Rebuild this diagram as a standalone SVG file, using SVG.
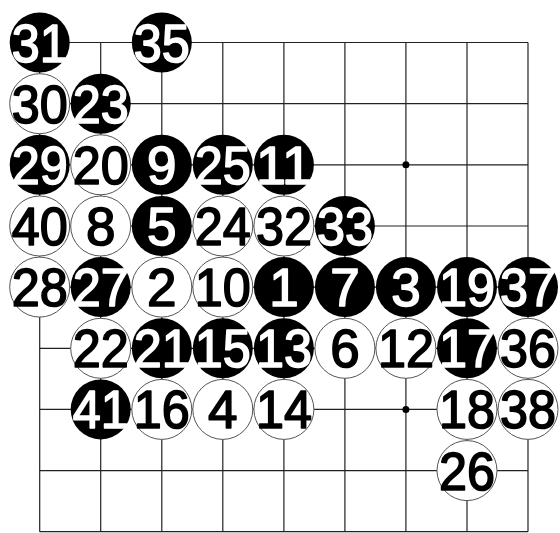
<svg xmlns="http://www.w3.org/2000/svg" width="560" height="533" viewBox="0 0 560 533">
<style>
.grid line{stroke:#222;stroke-width:1.2}
.star{fill:#000}
.b circle{fill:#000}
.w circle{fill:#fff;stroke:#555;stroke-width:1}
text{font-family:"Liberation Sans",Arial,sans-serif;font-size:53px;text-anchor:middle;stroke-width:1.6;stroke-linejoin:round}
.b text{fill:#fff;stroke:#fff}
.w text{fill:#000;stroke:#000}
</style>
<rect width="560" height="533" fill="#fff"/>
<g id="connectors" class="grid">
<line x1="39.7" y1="42.5" x2="528" y2="42.5"/>
<line x1="39.7" y1="103.7" x2="528" y2="103.7"/>
<line x1="39.7" y1="164.8" x2="528" y2="164.8"/>
<line x1="39.7" y1="226" x2="528" y2="226"/>
<line x1="39.7" y1="287.1" x2="528" y2="287.1"/>
<line x1="39.7" y1="348.3" x2="528" y2="348.3"/>
<line x1="39.7" y1="409.4" x2="528" y2="409.4"/>
<line x1="39.7" y1="470.6" x2="528" y2="470.6"/>
<line x1="39.7" y1="531.7" x2="528" y2="531.7"/>
<line x1="39.7" y1="42.5" x2="39.7" y2="531.7"/>
<line x1="100.7" y1="42.5" x2="100.7" y2="531.7"/>
<line x1="161.8" y1="42.5" x2="161.8" y2="531.7"/>
<line x1="222.8" y1="42.5" x2="222.8" y2="531.7"/>
<line x1="283.9" y1="42.5" x2="283.9" y2="531.7"/>
<line x1="344.9" y1="42.5" x2="344.9" y2="531.7"/>
<line x1="405.9" y1="42.5" x2="405.9" y2="531.7"/>
<line x1="467" y1="42.5" x2="467" y2="531.7"/>
<line x1="528" y1="42.5" x2="528" y2="531.7"/>
<circle class="star" cx="405.9" cy="164.8" r="3.5"/>
<circle class="star" cx="405.9" cy="409.4" r="3.5"/>
</g>
<g id="s31" class="b"><circle cx="39.7" cy="42.5" r="30"/><text x="39.7" y="61.5" textLength="56" lengthAdjust="spacingAndGlyphs">31</text></g>
<g id="s35" class="b"><circle cx="161.8" cy="42.5" r="30"/><text x="161.8" y="61.5" textLength="56" lengthAdjust="spacingAndGlyphs">35</text></g>
<g id="s30" class="w"><circle cx="39.7" cy="103.7" r="30"/><text x="39.7" y="122.7" textLength="56" lengthAdjust="spacingAndGlyphs">30</text></g>
<g id="s23" class="b"><circle cx="100.7" cy="103.7" r="30"/><text x="100.7" y="122.7" textLength="56" lengthAdjust="spacingAndGlyphs">23</text></g>
<g id="s29" class="b"><circle cx="39.7" cy="164.8" r="30"/><text x="39.7" y="183.8" textLength="56" lengthAdjust="spacingAndGlyphs">29</text></g>
<g id="s20" class="w"><circle cx="100.7" cy="164.8" r="30"/><text x="100.7" y="183.8" textLength="56" lengthAdjust="spacingAndGlyphs">20</text></g>
<g id="s9" class="b"><circle cx="161.8" cy="164.8" r="30"/><text x="161.8" y="183.8">9</text></g>
<g id="s25" class="b"><circle cx="222.8" cy="164.8" r="30"/><text x="222.8" y="183.8" textLength="56" lengthAdjust="spacingAndGlyphs">25</text></g>
<g id="s11" class="b"><circle cx="283.9" cy="164.8" r="30"/><text x="283.9" y="183.8" textLength="56" lengthAdjust="spacingAndGlyphs">11</text></g>
<g id="s40" class="w"><circle cx="39.7" cy="226" r="30"/><text x="39.7" y="245" textLength="56" lengthAdjust="spacingAndGlyphs">40</text></g>
<g id="s8" class="w"><circle cx="100.7" cy="226" r="30"/><text x="100.7" y="245">8</text></g>
<g id="s5" class="b"><circle cx="161.8" cy="226" r="30"/><text x="161.8" y="245">5</text></g>
<g id="s24" class="w"><circle cx="222.8" cy="226" r="30"/><text x="222.8" y="245" textLength="56" lengthAdjust="spacingAndGlyphs">24</text></g>
<g id="s32" class="w"><circle cx="283.9" cy="226" r="30"/><text x="283.9" y="245" textLength="56" lengthAdjust="spacingAndGlyphs">32</text></g>
<g id="s33" class="b"><circle cx="344.9" cy="226" r="30"/><text x="344.9" y="245" textLength="56" lengthAdjust="spacingAndGlyphs">33</text></g>
<g id="s28" class="w"><circle cx="39.7" cy="287.1" r="30"/><text x="39.7" y="306.1" textLength="56" lengthAdjust="spacingAndGlyphs">28</text></g>
<g id="s27" class="b"><circle cx="100.7" cy="287.1" r="30"/><text x="100.7" y="306.1" textLength="56" lengthAdjust="spacingAndGlyphs">27</text></g>
<g id="s2" class="w"><circle cx="161.8" cy="287.1" r="30"/><text x="161.8" y="306.1">2</text></g>
<g id="s10" class="w"><circle cx="222.8" cy="287.1" r="30"/><text x="222.8" y="306.1" textLength="56" lengthAdjust="spacingAndGlyphs">10</text></g>
<g id="s1" class="b"><circle cx="283.9" cy="287.1" r="30"/><text x="283.9" y="306.1">1</text></g>
<g id="s7" class="b"><circle cx="344.9" cy="287.1" r="30"/><text x="344.9" y="306.1">7</text></g>
<g id="s3" class="b"><circle cx="405.9" cy="287.1" r="30"/><text x="405.9" y="306.1">3</text></g>
<g id="s19" class="b"><circle cx="467" cy="287.1" r="30"/><text x="467" y="306.1" textLength="56" lengthAdjust="spacingAndGlyphs">19</text></g>
<g id="s37" class="b"><circle cx="528" cy="287.1" r="30"/><text x="528" y="306.1" textLength="56" lengthAdjust="spacingAndGlyphs">37</text></g>
<g id="s22" class="w"><circle cx="100.7" cy="348.3" r="30"/><text x="100.7" y="367.3" textLength="56" lengthAdjust="spacingAndGlyphs">22</text></g>
<g id="s21" class="b"><circle cx="161.8" cy="348.3" r="30"/><text x="161.8" y="367.3" textLength="56" lengthAdjust="spacingAndGlyphs">21</text></g>
<g id="s15" class="b"><circle cx="222.8" cy="348.3" r="30"/><text x="222.8" y="367.3" textLength="56" lengthAdjust="spacingAndGlyphs">15</text></g>
<g id="s13" class="b"><circle cx="283.9" cy="348.3" r="30"/><text x="283.9" y="367.3" textLength="56" lengthAdjust="spacingAndGlyphs">13</text></g>
<g id="s6" class="w"><circle cx="344.9" cy="348.3" r="30"/><text x="344.9" y="367.3">6</text></g>
<g id="s12" class="w"><circle cx="405.9" cy="348.3" r="30"/><text x="405.9" y="367.3" textLength="56" lengthAdjust="spacingAndGlyphs">12</text></g>
<g id="s17" class="b"><circle cx="467" cy="348.3" r="30"/><text x="467" y="367.3" textLength="56" lengthAdjust="spacingAndGlyphs">17</text></g>
<g id="s36" class="w"><circle cx="528" cy="348.3" r="30"/><text x="528" y="367.3" textLength="56" lengthAdjust="spacingAndGlyphs">36</text></g>
<g id="s41" class="b"><circle cx="100.7" cy="409.4" r="30"/><text x="100.7" y="428.4" textLength="56" lengthAdjust="spacingAndGlyphs">41</text></g>
<g id="s16" class="w"><circle cx="161.8" cy="409.4" r="30"/><text x="161.8" y="428.4" textLength="56" lengthAdjust="spacingAndGlyphs">16</text></g>
<g id="s4" class="w"><circle cx="222.8" cy="409.4" r="30"/><text x="222.8" y="428.4">4</text></g>
<g id="s14" class="w"><circle cx="283.9" cy="409.4" r="30"/><text x="283.9" y="428.4" textLength="56" lengthAdjust="spacingAndGlyphs">14</text></g>
<g id="s18" class="w"><circle cx="467" cy="409.4" r="30"/><text x="467" y="428.4" textLength="56" lengthAdjust="spacingAndGlyphs">18</text></g>
<g id="s38" class="w"><circle cx="528" cy="409.4" r="30"/><text x="528" y="428.4" textLength="56" lengthAdjust="spacingAndGlyphs">38</text></g>
<g id="s26" class="w"><circle cx="467" cy="470.6" r="30"/><text x="467" y="489.6" textLength="56" lengthAdjust="spacingAndGlyphs">26</text></g>
</svg>
